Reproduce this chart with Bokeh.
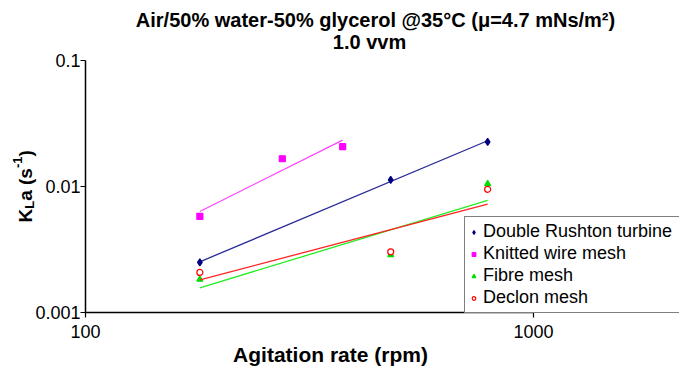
import numpy as np
from bokeh.plotting import figure
from bokeh.models import Label, Legend, LegendItem, Range1d
from bokeh.embed import file_html
from bokeh.resources import INLINE

# Agitation rate (rpm) and KLa (1/s) for each impeller / mesh type
rpm_drt = [180, 480, 790]
kla_drt = [0.0025, 0.0113, 0.0226]

rpm_kwm = [180, 275, 375]
kla_kwm = [0.0058, 0.0166, 0.0207]

rpm_fibre = [180, 480, 790]
kla_fibre = [0.00183, 0.00287, 0.0105]

rpm_declon = [180, 480, 790]
kla_declon = [0.00208, 0.00303, 0.0095]

series_names = ["Double Rushton turbine", "Knitted wire mesh", "Fibre mesh", "Declon mesh"]
x_ticks = [100, 1000]
y_ticks = [0.001, 0.01, 0.1]
x_tick_labels = ["100", "1000"]
y_tick_labels = ["0.001", "0.01", "0.1"]

FONT = "Liberation Sans"
W, H = 679, 370
# pixel box of the axes inside the canvas
AX_L, AX_R, AX_T, AX_B = 85, 533, 60, 312

# The frame spans the whole canvas; the ranges are stretched so that the
# axis box (first..last tick) lands on the pixel box above.
lx0, lx1 = np.log10(x_ticks[0]), np.log10(x_ticks[-1])
ly0, ly1 = np.log10(y_ticks[0]), np.log10(y_ticks[-1])
kx = (lx1 - lx0) / (AX_R - AX_L)
ky = (ly1 - ly0) / (AX_B - AX_T)
x_range = Range1d(10 ** (lx0 - AX_L * kx), 10 ** (lx1 + (W - AX_R) * kx))
y_range = Range1d(10 ** (ly0 - (H - AX_B) * ky), 10 ** (ly1 + AX_T * ky))

p = figure(width=W, height=H, x_axis_type="log", y_axis_type="log",
           x_range=x_range, y_range=y_range,
           x_axis_location=None, y_axis_location=None,
           output_backend="svg", toolbar_location=None,
           min_border=0)
p.outline_line_color = None
p.grid.visible = False
p.background_fill_color = "white"
p.border_fill_color = "white"

# axes: lines, outward ticks and tick labels
p.line([x_ticks[0], x_ticks[-1]], [y_ticks[0], y_ticks[0]], line_color="black", line_width=1.5)
p.line([x_ticks[0], x_ticks[0]], [y_ticks[0], y_ticks[-1]], line_color="black", line_width=1.5)
p.ray(x=x_ticks, y=[y_ticks[0]] * len(x_ticks), length=5, length_units="screen",
      angle=-np.pi / 2, line_color="black", line_width=1.2)
p.ray(x=[x_ticks[0]] * len(y_ticks), y=y_ticks, length=5, length_units="screen",
      angle=np.pi, line_color="black", line_width=1.2)
p.text(x=x_ticks, y=[y_ticks[0]] * len(x_ticks), text=x_tick_labels,
       y_offset=12, text_align="center", text_baseline="top",
       text_font={"value": FONT}, text_font_size="18px", text_color="black")
p.text(x=[x_ticks[0]] * len(y_ticks), y=y_ticks, text=y_tick_labels,
       x_offset=-5, text_align="right", text_baseline="middle",
       text_font={"value": FONT}, text_font_size="18px", text_color="black")


def power_fit(x, y):
    """Least-squares power-law trend line through the points."""
    lx, ly = np.log10(x), np.log10(y)
    b, a = np.polyfit(lx, ly, 1)
    xs = np.array([min(x), max(x)], dtype=float)
    return xs, 10 ** (a + b * np.log10(xs))


series = [
    (rpm_drt, kla_drt, "navy", "diamond", 7, True),
    (rpm_kwm, kla_kwm, "#ff00ff", "square", 6, True),
    (rpm_fibre, kla_fibre, "#00e000", "triangle", 6, True),
    (rpm_declon, kla_declon, "#ff0000", "circle", 6, False),
]
line_colors = ["#2a2a9a", "#ff44ff", "#22ee22", "#ff2222"]

items = []
for (x, y, col, marker, size, filled), lc, name in zip(series, line_colors, series_names):
    xs, ys = power_fit(x, y)
    p.line(xs, ys, line_color=lc, line_width=1.3)
    r = p.scatter(x, y, marker=marker, size=size, line_color=col,
                  fill_color=col if filled else "white", line_width=1.2)
    items.append(LegendItem(label=name, renderers=[r]))

legend = Legend(items=items, location=(464, H - 313),
                border_line_color="black", border_line_width=1,
                background_fill_color="white", background_fill_alpha=1,
                label_text_font=FONT, label_text_font_size="18px",
                label_text_color="black",
                glyph_width=9, glyph_height=14, label_standoff=5,
                label_height=20, label_width=220, spacing=1, padding=4, margin=0)
p.add_layout(legend, "center")


def canvas_label(text, cx, cy, size, bold=True, align="left", baseline="alphabetic", angle=0.0):
    """Place text at canvas pixel position (cx, cy) measured from the top-left."""
    lab = Label(x=cx, y=H - cy, x_units="screen", y_units="screen",
                text=text, text_font=FONT, text_font_size=f"{size}px",
                text_font_style="bold" if bold else "normal",
                text_align=align, text_baseline=baseline, angle=angle,
                text_color="black")
    p.add_layout(lab)


# Title
canvas_label("Air/50% water-50% glycerol @35\u00b0C (\u03bc=4.7 mNs/m\u00b2)", 375, 19, 20, align="center")
canvas_label("1.0 vvm", 369, 41, 20, align="center")

# x-axis title
canvas_label("Agitation rate (rpm)", 330, 354, 21, align="center")

# y-axis title, composed piece by piece: K_L a (s^-1), reading upward
bx = 25
y0 = 222
s_big, s_small = 19, 13
widths = {"K": 0.722, "L": 0.611, "a (s": 0.556 + 0.278 + 0.333 + 0.556, "-1": 0.333 + 0.556}
canvas_label("K", bx, y0, s_big, angle=np.pi / 2)
y0 -= widths["K"] * s_big
canvas_label("L", bx + 4, y0, s_small, angle=np.pi / 2)
y0 -= widths["L"] * s_small
canvas_label("a (s", bx, y0, s_big, angle=np.pi / 2)
y0 -= widths["a (s"] * s_big
canvas_label("-1", bx - 8, y0, s_small, angle=np.pi / 2)
y0 -= widths["-1"] * s_small
canvas_label(")", bx, y0, s_big, angle=np.pi / 2)

open("out.html", "w").write(file_html(p, INLINE))
